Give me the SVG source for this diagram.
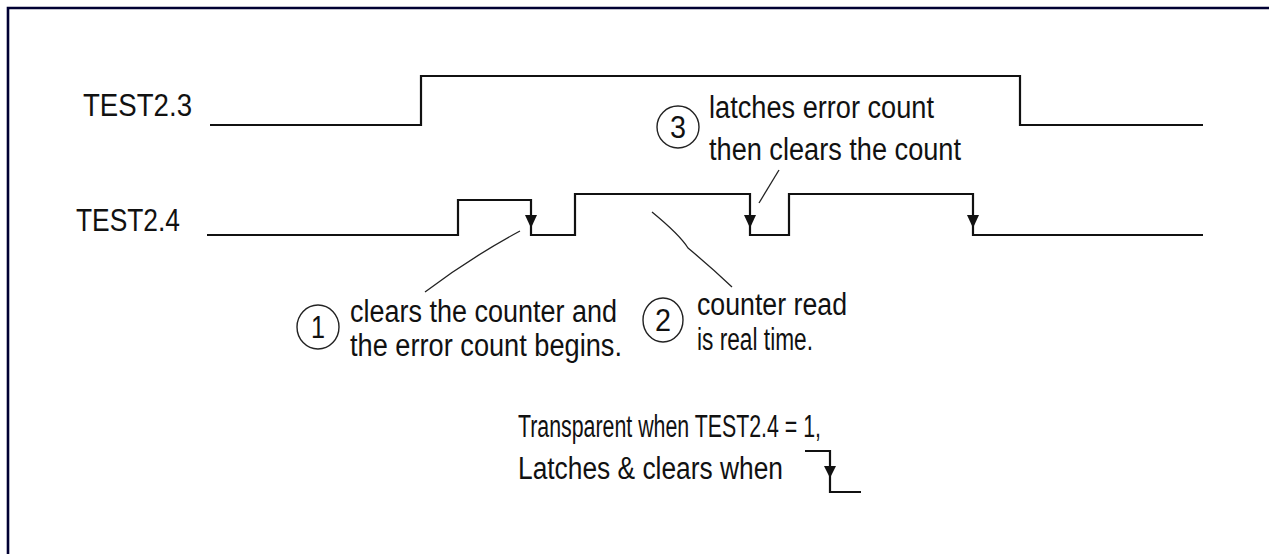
<svg xmlns="http://www.w3.org/2000/svg" width="1269" height="554" viewBox="0 0 1269 554">
<style>
.t{font-family:"Liberation Sans",Arial,sans-serif;font-size:31px;fill:#111}
.sig{fill:none;stroke:#111;stroke-width:2.2}
.lead{fill:none;stroke:#222;stroke-width:1.3}
.circ{fill:none;stroke:#222;stroke-width:1.4}
.arr{fill:#111}
</style>
<rect width="1269" height="554" fill="#fff"/>
<path d="M8,554 L8,8 L1269,8" fill="none" stroke="#000033" stroke-width="2.6"/>

<g id="label-test23"><text class="t" x="83" y="116" textLength="109" lengthAdjust="spacingAndGlyphs">TEST2.3</text></g>
<g id="label-test24"><text class="t" x="76" y="231" textLength="104" lengthAdjust="spacingAndGlyphs">TEST2.4</text></g>

<g id="signal-test23"><path class="sig" d="M210,125 H421 V76 H1020 V125 H1203"/></g>
<g id="signal-test24"><path class="sig" d="M207,235 H458 V200 H531 V235 H575 V194 H750 V235 H789 V194 H973 V235 H1203"/></g>

<g id="connectors">
<path class="arr" d="M531,215 L537,215 L531,228 L525,215 Z"/>
<path class="arr" d="M750,215 L756,215 L750,228 L744,215 Z"/>
<path class="arr" d="M973,215 L979,215 L973,228 L967,215 Z"/>
<path class="lead" d="M425,292 Q470,258 520,231"/>
<path class="lead" d="M652,212 Q680,235 688,248 Q712,268 732,287"/>
<path class="lead" d="M779,170 L759,203"/>
</g>

<g id="note1">
<ellipse class="circ" cx="318" cy="327" rx="21" ry="22"/>
<text class="t" x="311" y="338" font-size="28" textLength="14" lengthAdjust="spacingAndGlyphs">1</text>
<text class="t" x="350" y="322" textLength="267" lengthAdjust="spacingAndGlyphs">clears the counter and</text>
<text class="t" x="350" y="356" textLength="272" lengthAdjust="spacingAndGlyphs">the error count begins.</text>
</g>
<g id="note2">
<ellipse class="circ" cx="663" cy="320" rx="20" ry="22"/>
<text class="t" x="655" y="331" font-size="28" textLength="16" lengthAdjust="spacingAndGlyphs">2</text>
<text class="t" x="697" y="315" textLength="150" lengthAdjust="spacingAndGlyphs">counter read</text>
<text class="t" x="697" y="350" textLength="116" lengthAdjust="spacingAndGlyphs">is real time.</text>
</g>
<g id="note3">
<ellipse class="circ" cx="678" cy="127" rx="21" ry="21"/>
<text class="t" x="670" y="138" font-size="28" textLength="16" lengthAdjust="spacingAndGlyphs">3</text>
<text class="t" x="709" y="118" textLength="225" lengthAdjust="spacingAndGlyphs">latches error count</text>
<text class="t" x="709" y="160" textLength="252" lengthAdjust="spacingAndGlyphs">then clears the count</text>
</g>
<g id="legend">
<text class="t" x="518" y="437" textLength="303" lengthAdjust="spacingAndGlyphs">Transparent when TEST2.4 = 1,</text>
<text class="t" x="518" y="479" textLength="265" lengthAdjust="spacingAndGlyphs">Latches &amp; clears when</text>
<path class="sig" d="M805,451 H830 V492 H861"/>
<path class="arr" d="M830,466 L836,466 L830,478 L824,466 Z"/>
</g>
</svg>
